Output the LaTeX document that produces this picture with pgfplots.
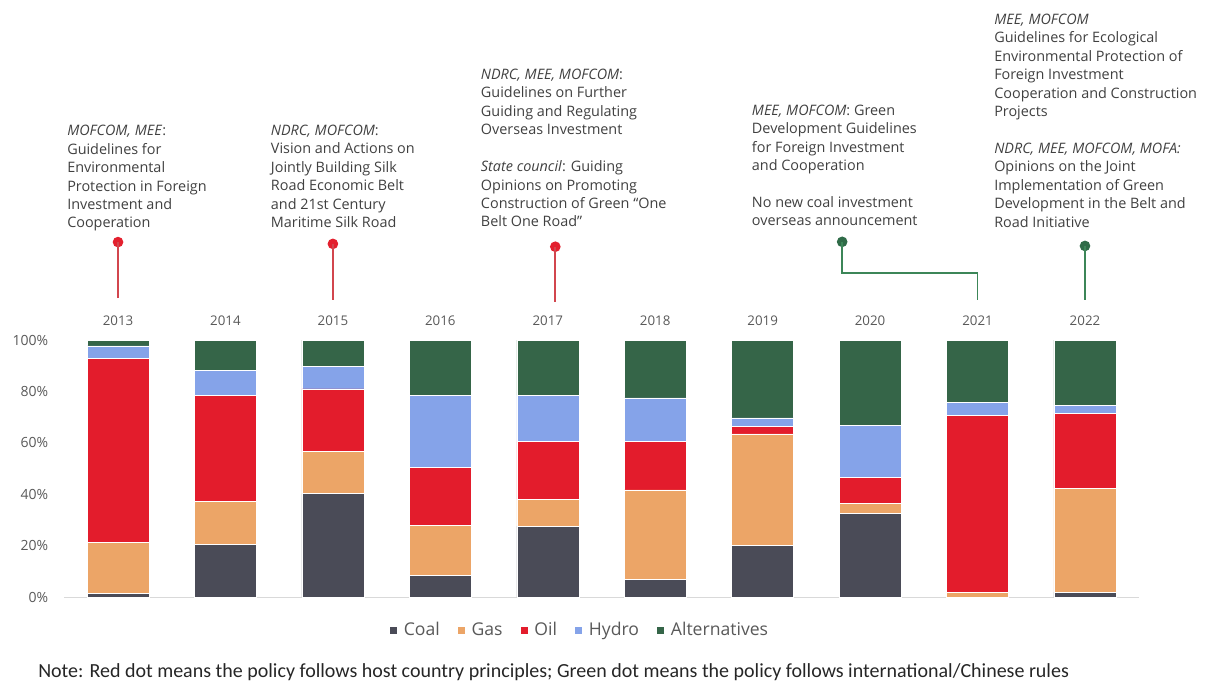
\documentclass[border=0pt]{standalone}
\usepackage{pgfplots}
\usepackage{pgfplotstable}
\pgfplotsset{compat=1.18}
\usepackage{fontspec}
\setmainfont{Open Sans}
\newfontfamily\notefont{Carlito}
\definecolor{coal}{HTML}{4A4B57}
\definecolor{gas}{HTML}{ECA567}
\definecolor{oil}{HTML}{E31C2C}
\definecolor{hydro}{HTML}{85A3E9}
\definecolor{alt}{HTML}{356548}
\definecolor{txt}{HTML}{404040}
\definecolor{tickc}{HTML}{595959}
\definecolor{reddot}{HTML}{E3202E}
\definecolor{redline}{HTML}{D2464E}
\definecolor{greendot}{HTML}{2F6B48}
\definecolor{greenline}{HTML}{3C8658}

\pgfplotstableread{
x coal gas oil hydro alt
0 1.3 20.1 71.5 4.8 2.3
1 20.5 16.8 41.3 9.5 11.9
2 40.2 16.5 24.3 8.7 10.3
3 8.4 19.5 22.4 28.3 21.4
4 27.6 10.4 22.6 18.0 21.4
5 6.8 34.9 18.9 16.9 22.5
6 20.1 43.4 2.9 3.3 30.3
7 32.4 4.1 9.9 20.3 33.3
8 0 1.8 68.8 5.2 24.2
9 1.9 40.4 29.0 3.4 25.3
}\datatable

\begin{document}
\begin{tikzpicture}
\begin{scope}[x=0.75pt,y=-0.75pt]
\path[use as bounding box] (0,0) rectangle (1210,681);
\begin{scope}[every node/.style={anchor=north west, inner sep=0pt, align=left, text=txt, font=\fontsize{10.8}{13.84}\selectfont}]
\node at (67,125) {\textit{MOFCOM, MEE}:\\Guidelines for\\Environmental\\Protection in Foreign\\Investment and\\Cooperation};
\node at (270.7,124.5) {\textit{NDRC, MOFCOM}:\\Vision and Actions on\\Jointly Building Silk\\Road Economic Belt\\and 21st Century\\Maritime Silk Road};
\node at (480.7,68.6) {\textit{NDRC, MEE, MOFCOM}:\\Guidelines on Further\\Guiding and Regulating\\Overseas Investment\\[13.84pt]\textit{State council}: Guiding\\Opinions on Promoting\\Construction of Green “One\\Belt One Road”};
\node at (751.7,104.5) {\textit{MEE, MOFCOM}: Green\\Development Guidelines\\for Foreign Investment\\and Cooperation\\[13.84pt]No new coal investment\\overseas announcement};
\node at (994,13.5) {\textit{MEE, MOFCOM}\\Guidelines for Ecological\\Environmental Protection of\\Foreign Investment\\Cooperation and Construction\\Projects\\[13.84pt]\textit{NDRC, MEE, MOFCOM, MOFA:}\\Opinions on the Joint\\Implementation of Green\\Development in the Belt and\\Road Initiative};
\end{scope}
\node[anchor=west, inner sep=0pt, text=black!85, font=\notefont\fontsize{15}{17}\selectfont] at (38,672) {Note: Red dot means the policy follows host country principles; Green dot means the policy follows international/Chinese rules};
\end{scope}
\begin{axis}[
  at={(48.225pt,-447.75pt)}, anchor=south west,
  scale only axis, width=805.8pt, height=192.75pt,
  ybar stacked, bar width=46.5pt,
  xmin=-0.5, xmax=9.5, ymin=0, ymax=100,
  xtick={0,1,2,3,4,5,6,7,8,9},
  xticklabels={2013,2014,2015,2016,2017,2018,2019,2020,2021,2022},
  xticklabel pos=upper,
  xticklabel style={yshift=7pt, font=\fontsize{10}{12}\selectfont},
  ytick={0,20,40,60,80,100},
  yticklabels={0\%,20\%,40\%,60\%,80\%,100\%},
  yticklabel style={xshift=-8.5pt, font=\fontsize{10.5}{12}\selectfont},
  axis line style={draw=none}, major tick length=0pt,
  tick label style={text=tickc},
  clip=false,
  legend columns=5,
  legend style={draw=none, at={(0.48,-0.128)}, anchor=center, font=\fontsize{13.2}{15}\selectfont, text=tickc,
    /tikz/every even column/.append style={column sep=11pt},
    /tikz/every odd column/.append style={column sep=2.5pt}},
  legend image code/.code={\fill[#1] (0pt,-3pt) rectangle (6pt,3pt);},
]
\addplot[fill=coal, draw=white, line width=0.4pt] table[x=x,y=coal]{\datatable};
\addplot[fill=gas, draw=white, line width=0.4pt] table[x=x,y=gas]{\datatable};
\addplot[fill=oil, draw=white, line width=0.4pt] table[x=x,y=oil]{\datatable};
\addplot[fill=hydro, draw=white, line width=0.4pt] table[x=x,y=hydro]{\datatable};
\addplot[fill=alt, draw=white, line width=0.4pt] table[x=x,y=alt]{\datatable};
\legend{Coal,Gas,Oil,Hydro,Alternatives}
\draw[gray!30, line width=0.7pt] (rel axis cs:0,0) -- (rel axis cs:1,0);
% policy markers
\draw[redline, line width=1.3pt] (axis cs:0,116.3) -- (axis cs:0,138.1);
\fill[reddot] (axis cs:0,138.1) circle[radius=4pt];
\draw[redline, line width=1.3pt] (axis cs:2,115.6) -- (axis cs:2,137.4);
\fill[reddot] (axis cs:2,137.4) circle[radius=4pt];
\draw[redline, line width=1.3pt] (axis cs:4.07,114.9) -- (axis cs:4.07,136.3);
\fill[reddot] (axis cs:4.07,136.3) circle[radius=4pt];
\draw[greenline, line width=1.3pt] (axis cs:6.74,138.2) -- (axis cs:6.74,126) -- (axis cs:8,126) -- (axis cs:8,115.6);
\fill[greendot] (axis cs:6.74,138.2) circle[radius=4pt];
\draw[greenline, line width=1.3pt] (axis cs:9,115.6) -- (axis cs:9,136.6);
\fill[greendot] (axis cs:9,136.6) circle[radius=4pt];
\end{axis}
\end{tikzpicture}
\end{document}
